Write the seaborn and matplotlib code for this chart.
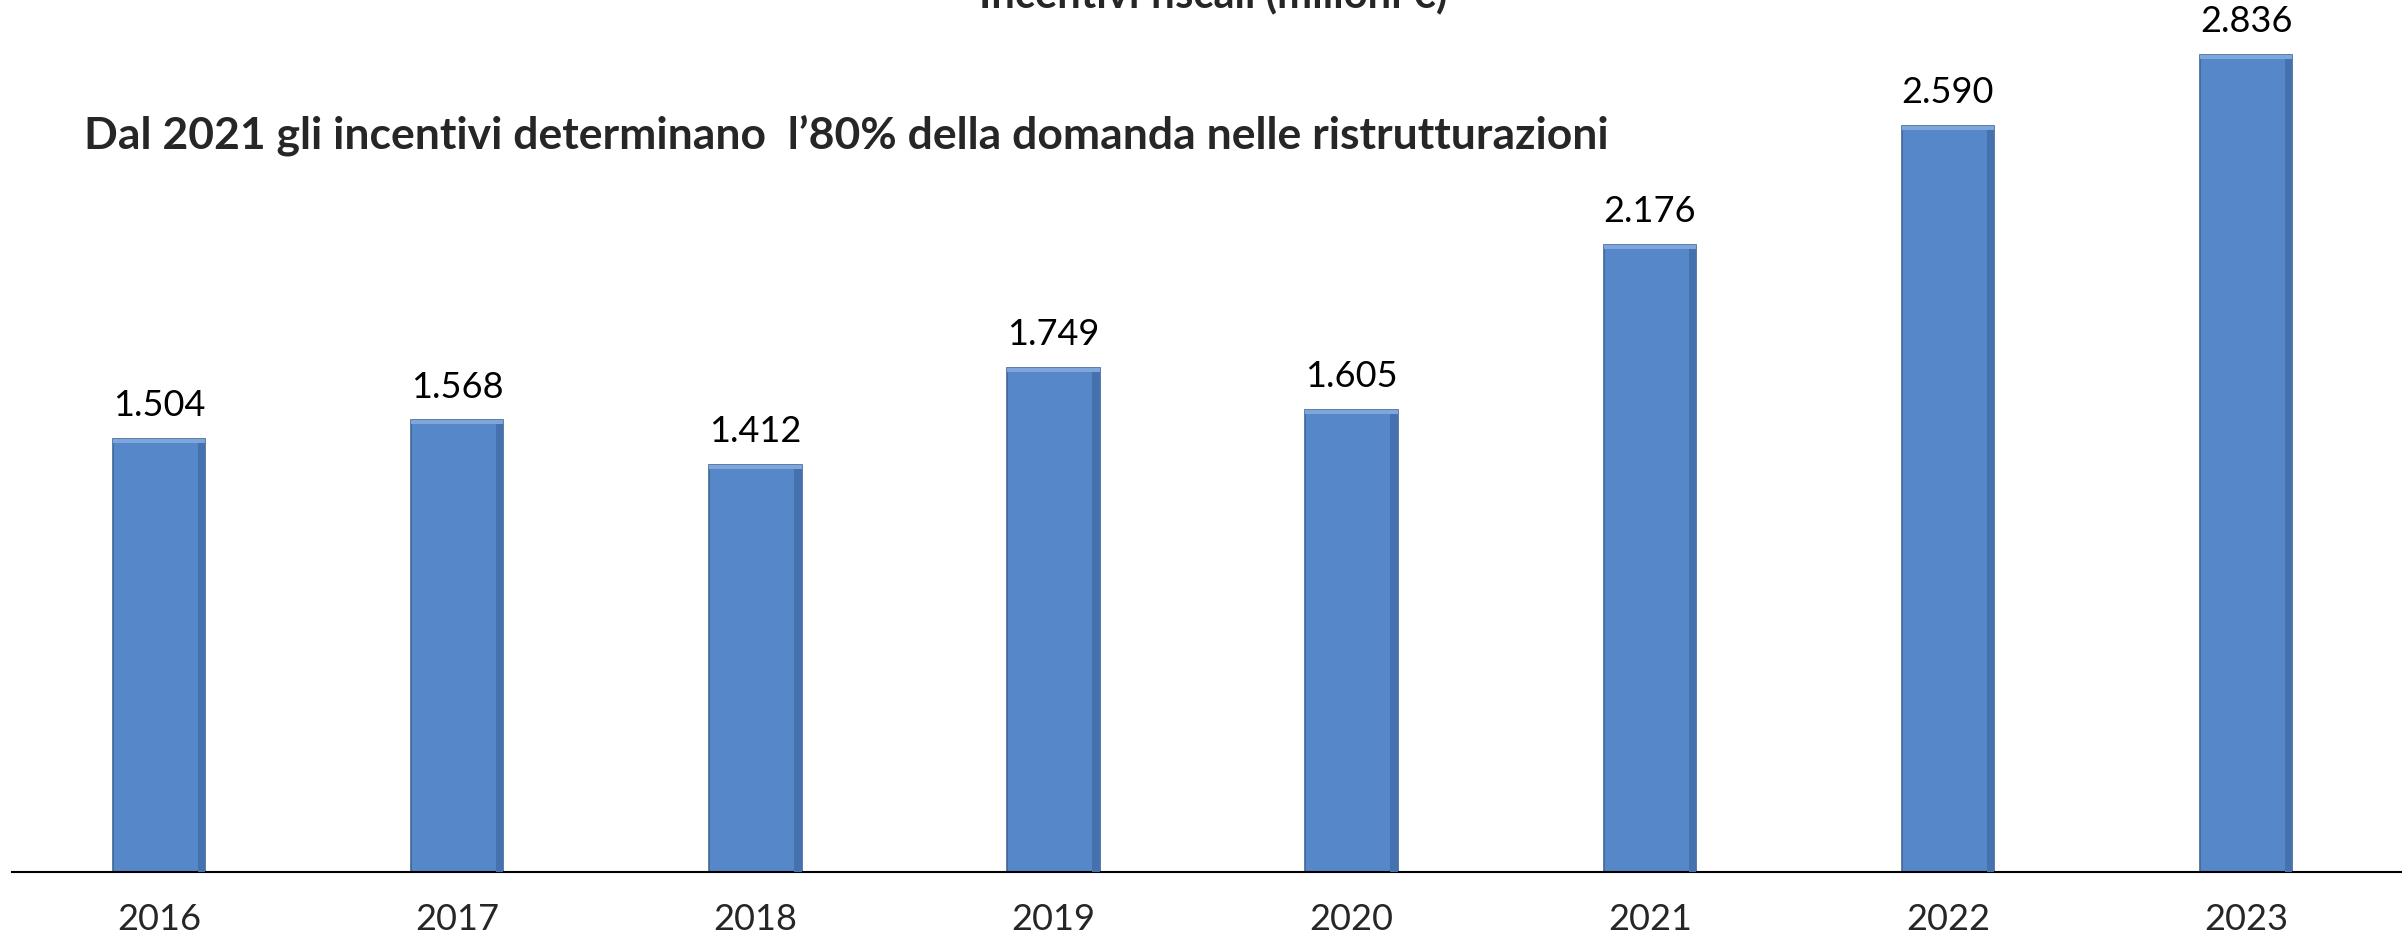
import numpy as np
import pandas as pd
import matplotlib.pyplot as plt
import seaborn as sns

anni = ['2016', '2017', '2018', '2019', '2020', '2021', '2022', '2023']
incentivi = [1504, 1568, 1412, 1749, 1605, 2176, 2590, 2836]
etichette = ['1.504', '1.568', '1.412', '1.749', '1.605', '2.176', '2.590', '2.836']

titolo = 'Incentivi fiscali (milioni €)'
sottotitolo = 'Dal 2021 gli incentivi determinano  l\u201980% della domanda nelle ristrutturazioni'

df = pd.DataFrame({'anno': anni, 'valore': incentivi})

sns.set_style('white')
plt.rcParams['font.family'] = ['Lato', 'DejaVu Sans']

fig = plt.figure(figsize=(24.02, 9.36), dpi=100)
ax = fig.add_axes([0.005, 0.0684, 0.995, 0.9231])

sns.barplot(data=df, x='anno', y='valore', color='#5687C8', width=0.31,
            edgecolor='#3E6699', linewidth=1.2, saturation=1, ax=ax)

# effetto bisellato: striscia chiara in alto, bordo scuro a destra
for p in ax.patches:
    x0, w, h = p.get_x(), p.get_width(), p.get_height()
    ax.fill_between([x0 + w * 0.92, x0 + w], 0, h, color='#4572AE', lw=0, zorder=3)
    ax.fill_between([x0, x0 + w], h - 14, h, color='#7FA6DA', lw=0, zorder=3)

for p, lab in zip(ax.patches, etichette):
    ax.annotate(lab, (p.get_x() + p.get_width() / 2, p.get_height()),
                xytext=(0, 24), textcoords='offset points',
                ha='center', va='center', fontsize=26, color='black')

ax.set_xlim(-0.493, 7.523)
ax.set_ylim(0, 3000)
ax.set_xlabel('')
ax.set_ylabel('')
ax.set_yticks([])
for s in ['top', 'right', 'left']:
    ax.spines[s].set_visible(False)
ax.spines['bottom'].set_color('black')
ax.spines['bottom'].set_linewidth(1.5)
ax.tick_params(axis='x', length=0, labelsize=26, pad=22)

# il titolo è tagliato in alto come nell'originale
fig.text(0.505, 0.9925, titolo, ha='center', va='baseline',
         fontsize=30, fontweight='bold')
fig.text(0.035, 0.856, sottotitolo, ha='left', va='center',
         fontsize=32, fontweight='bold')

fig.savefig('out.png', dpi=100)
